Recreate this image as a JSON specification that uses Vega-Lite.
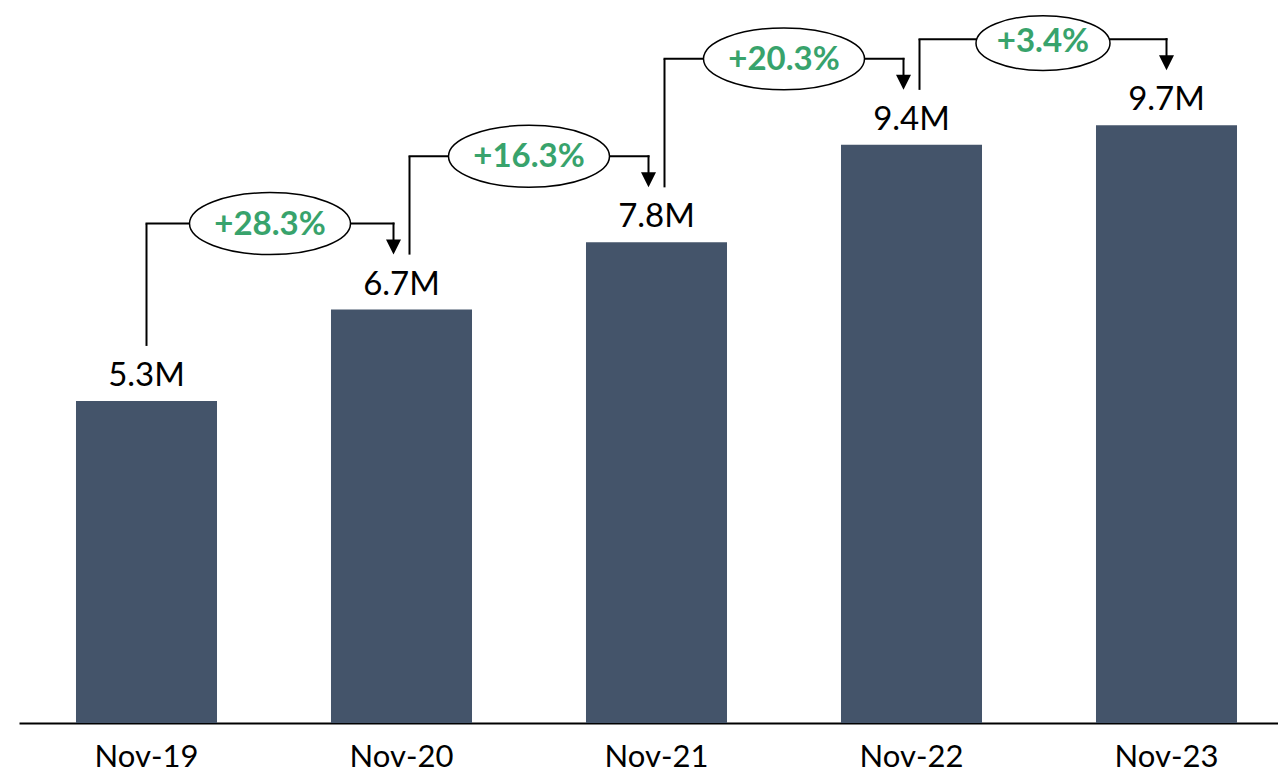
{
  "$schema": "https://vega.github.io/schema/vega-lite/v6.json",
  "width": 1278,
  "height": 723,
  "autosize": {"type": "none"},
  "padding": {"left": 0, "right": 0, "top": 0, "bottom": 51},
  "background": "white",
  "config": {"view": {"stroke": null}},
  "datasets": {
    "bars": [
      {"month": "Nov-19", "value": 5.22, "label": "5.3M"},
      {"month": "Nov-20", "value": 6.70, "label": "6.7M"},
      {"month": "Nov-21", "value": 7.79, "label": "7.8M"},
      {"month": "Nov-22", "value": 9.37, "label": "9.4M"},
      {"month": "Nov-23", "value": 9.69, "label": "9.7M"}
    ],
    "growth": [
      {"from": "Nov-19", "to": "Nov-20", "fromVal": 5.22, "toVal": 6.70, "pct": "+28.3%"},
      {"from": "Nov-20", "to": "Nov-21", "fromVal": 6.70, "toVal": 7.79, "pct": "+16.3%"},
      {"from": "Nov-21", "to": "Nov-22", "fromVal": 7.79, "toVal": 9.37, "pct": "+20.3%"},
      {"from": "Nov-22", "to": "Nov-23", "fromVal": 9.37, "toVal": 9.69, "pct": "+3.4%"}
    ]
  },
  "layer": [
    {
      "data": {"name": "bars"},
      "mark": {"type": "bar", "color": "#44546A"},
      "encoding": {
        "x": {
          "field": "month", "type": "nominal", "sort": null,
          "scale": {"type": "band", "range": [19, 1294], "paddingInner": 0.447, "paddingOuter": 0.2235},
          "axis": {
            "title": null, "labelAngle": 0, "domain": true, "domainColor": "#000000", "domainWidth": 2,
            "ticks": false, "tickSize": 0, "grid": false,
            "labelFont": "Lato", "labelFontSize": 31, "labelColor": "#000000",
            "labelBaseline": "alphabetic", "labelPadding": 43
          }
        },
        "y": {
          "field": "value", "type": "quantitative",
          "scale": {"domain": [0, 11.718], "nice": false, "zero": true},
          "axis": null
        }
      }
    },
    {
      "data": {"name": "bars"},
      "mark": {"type": "text", "font": "Lato", "fontSize": 33, "color": "#000000", "baseline": "alphabetic", "align": "center", "dy": -15},
      "encoding": {
        "x": {"field": "month", "type": "nominal", "sort": null},
        "y": {"field": "value", "type": "quantitative"},
        "text": {"field": "label"}
      }
    },
    {
      "data": {"name": "growth"},
      "mark": {"type": "rule", "color": "#000000", "strokeWidth": 2, "yOffset": -55, "y2Offset": -86,
               "xOffset": {"expr": "datum.from == 'Nov-19' ? 0 : 8"}},
      "encoding": {
        "x": {"field": "from", "type": "nominal", "sort": null},
        "y": {"field": "fromVal", "type": "quantitative"},
        "y2": {"field": "toVal"}
      }
    },
    {
      "data": {"name": "growth"},
      "mark": {"type": "rule", "color": "#000000", "strokeWidth": 2, "yOffset": -86,
               "xOffset": {"expr": "datum.from == 'Nov-19' ? -1 : 7"},
               "x2Offset": {"expr": "datum.to == 'Nov-23' ? 1 : -7"}},
      "encoding": {
        "x": {"field": "from", "type": "nominal", "sort": null},
        "x2": {"field": "to"},
        "y": {"field": "toVal", "type": "quantitative"}
      }
    },
    {
      "data": {"name": "growth"},
      "mark": {"type": "rule", "color": "#000000", "strokeWidth": 2, "yOffset": -87, "y2Offset": -68,
               "xOffset": {"expr": "datum.to == 'Nov-23' ? 0 : -8"}},
      "encoding": {
        "x": {"field": "to", "type": "nominal", "sort": null},
        "y": {"field": "toVal", "type": "quantitative"},
        "y2": {"field": "toVal"}
      }
    },
    {
      "data": {"name": "growth"},
      "mark": {"type": "point", "filled": true, "color": "#000000", "opacity": 1, "size": 225,
               "shape": "M-1,-1L1,-1L0,1Z", "yOffset": -62.5,
               "xOffset": {"expr": "datum.to == 'Nov-23' ? 0 : -8"}},
      "encoding": {
        "x": {"field": "to", "type": "nominal", "sort": null},
        "y": {"field": "toVal", "type": "quantitative"}
      }
    },
    {
      "data": {"name": "growth"},
      "mark": {"type": "point", "filled": false, "fill": "#FFFFFF", "fillOpacity": 1, "stroke": "#000000", "strokeWidth": 1.5, "opacity": 1,
               "yOffset": {"expr": "datum.to == 'Nov-23' ? -82 : -86"},
               "xOffset": {"expr": "datum.from == 'Nov-19' ? 123.5 : (datum.to == 'Nov-23' ? 131.5 : 127.5)"}},
      "encoding": {
        "x": {"field": "from", "type": "nominal", "sort": null},
        "y": {"field": "toVal", "type": "quantitative"},
        "shape": {
          "condition": {"test": "datum.to == 'Nov-23'", "value": "M-1,0A1,0.41,0,1,1,1,0A1,0.41,0,1,1,-1,0Z"},
          "value": "M-1,0A1,0.385,0,1,1,1,0A1,0.385,0,1,1,-1,0Z"
        },
        "size": {
          "condition": {"test": "datum.to == 'Nov-23'", "value": 17956},
          "value": 25921
        }
      }
    },
    {
      "data": {"name": "growth"},
      "mark": {"type": "text", "font": "Lato", "fontWeight": "bold", "fontSize": 33, "color": "#38A36C",
               "align": "center", "baseline": "middle",
               "yOffset": {"expr": "datum.to == 'Nov-23' ? -83 : -85"},
               "xOffset": {"expr": "datum.from == 'Nov-19' ? 123.5 : (datum.to == 'Nov-23' ? 131.5 : 127.5)"}},
      "encoding": {
        "x": {"field": "from", "type": "nominal", "sort": null},
        "y": {"field": "toVal", "type": "quantitative"},
        "text": {"field": "pct"}
      }
    }
  ]
}
